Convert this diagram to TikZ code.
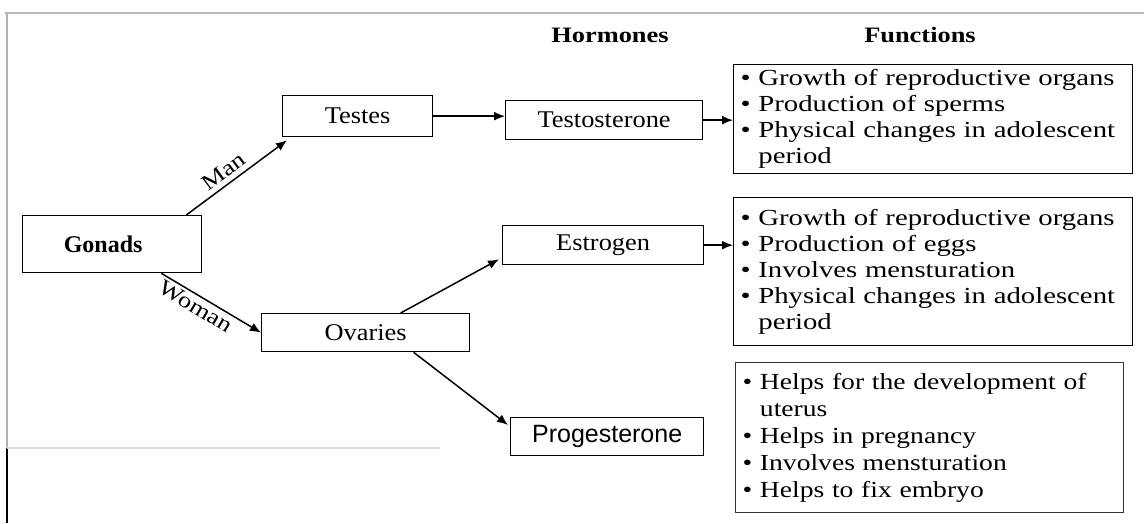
\documentclass[tikz,border=0pt]{standalone}
\usepackage{fontspec}
\setmainfont{Liberation Serif}
\newfontfamily\wide[FakeStretch=1.2]{Liberation Serif}
\newfontfamily\bwide[FakeStretch=1.1]{Liberation Serif}
\newfontfamily\fwide[FakeStretch=1.25]{Liberation Serif}
\newfontfamily\arialf{Liberation Sans}
\usetikzlibrary{arrows.meta,calc}
\tikzset{
  box/.style={draw, line width=1.3pt, inner sep=0pt, anchor=north west},
  boxtext/.style={font=\bwide\fontsize{24}{28}\selectfont},
  fbox/.style={draw, line width=1.3pt, inner xsep=7pt, inner ysep=0pt, anchor=north west, align=left},
  arr/.style={-{Latex[length=11pt,width=9pt]}, line width=1.5pt},
  lbl/.style={font=\wide\fontsize{22}{24}\selectfont, inner sep=3pt},
  hdr/.style={font=\wide\bfseries\fontsize{22}{24}\selectfont},
}
\newcommand{\bl}{\textbullet\ }
\newcommand{\cont}{\hphantom{\textbullet\ }}
\begin{document}
\begin{tikzpicture}[x=1pt,y=-1pt]
\useasboundingbox[fill=white] (0,0) rectangle (1144,523);
% scanned frame
\draw[gray!55, line width=1.5pt] (5,13) -- (1144,13);
\draw[gray!60, line width=1.8pt] (7,13) -- (7,448);
\draw[black, line width=1.5pt] (7,448) -- (7,523);
\draw[gray!25, line width=1.2pt] (7,448) -- (440,448);

% headers
\node[hdr] (hhorm) at (610,35) {Hormones};
\node[hdr] (hfunc) at (920,35) {Functions};

% boxes
\node[box, minimum width=179pt, minimum height=57pt, font=\bfseries\fontsize{24}{28}\selectfont] (gonads) at (22,215) {Gonads\hspace*{18pt}};
\node[box, boxtext, minimum width=150pt, minimum height=41pt] (testes) at (282,95) {Testes};
\node[box, boxtext, minimum width=197pt, minimum height=39pt] (testo) at (505,100) {Testosterone};
\node[box, boxtext, minimum width=208pt, minimum height=38pt] (ovaries) at (261,313) {Ovaries};
\node[box, boxtext, minimum width=201pt, minimum height=39pt] (estro) at (502,225) {Estrogen};
\node[box, minimum width=193pt, minimum height=38pt, font=\arialf\fontsize{25}{28}\selectfont] (proge) at (510,417) {Progesterone};

% function boxes
\node[fbox, text width=385pt, minimum height=109pt, font=\fwide\fontsize{23}{26}\selectfont] (f1) at (733,64) {%
\bl Growth of reproductive organs\\
\bl Production of sperms\\
\bl Physical changes in adolescent\\
\cont period};
\node[fbox, text width=385pt, minimum height=148pt, font=\fwide\fontsize{23}{26}\selectfont] (f2) at (733,197) {%
\bl Growth of reproductive organs\\
\bl Production of eggs\\
\bl Involves mensturation\\
\bl Physical changes in adolescent\\
\cont period};
\node[fbox, draw=black!80, text width=374pt, minimum height=150pt, font=\wide\fontsize{23}{27}\selectfont] (f3) at (735,362) {%
\bl Helps for the development of\\
\cont uterus\\
\bl Helps in pregnancy\\
\bl Involves mensturation\\
\bl Helps to fix embryo};

% connectors
\draw[arr] ([xshift=-16pt]gonads.north east) -- node[lbl, pos=0.45, above=2pt, sloped] {Man} ([xshift=5pt,yshift=-3pt]testes.south west);
\draw[arr] ([xshift=-41pt]gonads.south east) -- node[lbl, pos=0.4, below, sloped] {Woman} (ovaries.west);
\draw[arr] (testes.east) -- (testes.east -| testo.west);
\draw[arr] (testo.east) -- (testo.east -| f1.west);
\draw[arr] ([xshift=35pt]ovaries.north) -- ([xshift=-3pt,yshift=6pt]estro.south west);
\draw[arr] ([xshift=48pt]ovaries.south) -- ([xshift=-2pt,yshift=-8pt]proge.north west);
\draw[arr] (estro.east) -- (estro.east -| f2.west);
\end{tikzpicture}
\end{document}
